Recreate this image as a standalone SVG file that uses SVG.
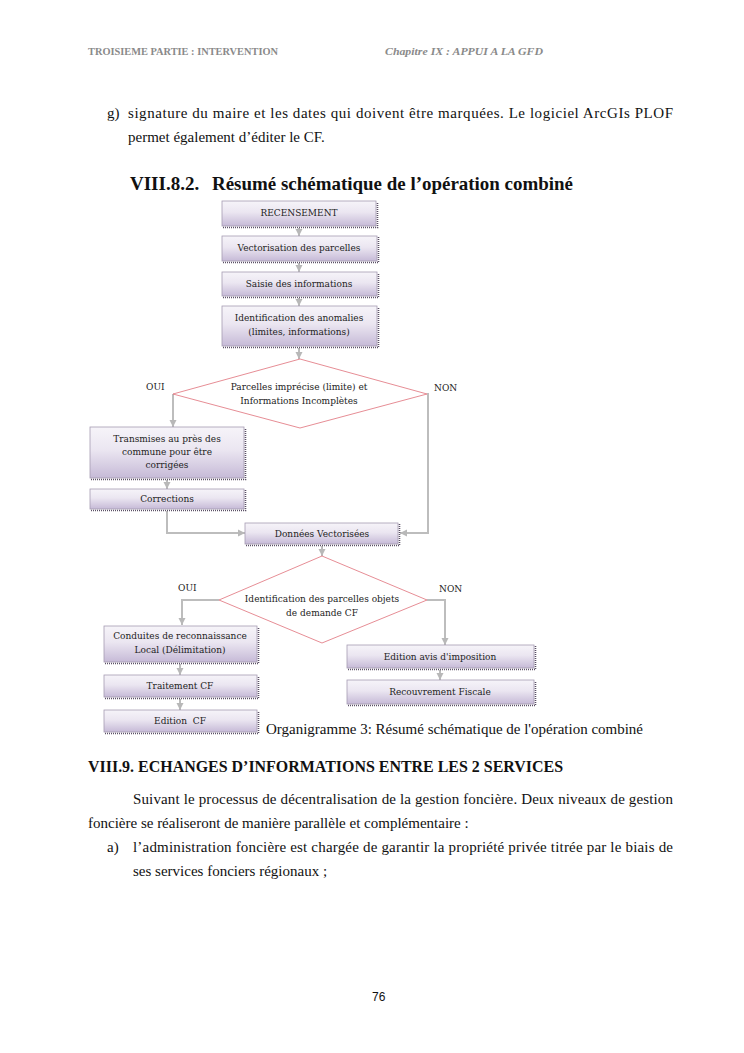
<svg xmlns="http://www.w3.org/2000/svg" width="744" height="1053" viewBox="0 0 744 1053">
<defs>
<linearGradient id="g" x1="0" y1="0" x2="0" y2="1">
<stop offset="0" stop-color="#f6f4f9"/>
<stop offset="0.45" stop-color="#ebe6f1"/>
<stop offset="1" stop-color="#c6bad7"/>
</linearGradient>
<marker id="a" markerWidth="8" markerHeight="8" refX="7" refY="4" orient="auto" markerUnits="userSpaceOnUse">
<path d="M0,0.5 L7,4 L0,7.5 z" fill="#b8b8b8"/>
</marker>
</defs>
<style>
.pg{font-family:"Liberation Serif",serif;font-size:15px;fill:#111}
.hd{font-family:"Liberation Serif",serif;font-size:10px;font-weight:bold;fill:#8a8a8a}
.h2{font-family:"Liberation Serif",serif;font-weight:bold;fill:#111}
.box{fill:url(#g);stroke:#a59cb2;stroke-width:0.8}
.sh{fill:none;stroke:#5b5066;stroke-width:1.6;stroke-dasharray:1 1}
.bt{font-family:"DejaVu Serif",serif;font-size:9px;fill:#222;text-anchor:middle}
.lb{font-family:"DejaVu Serif",serif;font-size:9px;fill:#222}
.dia{fill:#fff;stroke:#e0707a;stroke-width:0.8}
.cn{fill:none;stroke:#bdbdbd;stroke-width:2;marker-end:url(#a)}
</style>
<rect width="744" height="1053" fill="#fff"/>
<text class="hd" x="88" y="55" textLength="190" lengthAdjust="spacingAndGlyphs">TROISIEME PARTIE : INTERVENTION</text>
<text class="hd" x="385" y="55" font-style="italic" textLength="158" lengthAdjust="spacingAndGlyphs">Chapitre IX : APPUI A LA GFD</text>
<text class="pg" x="107" y="118">g)</text>
<text class="pg" x="128" y="118" textLength="545" lengthAdjust="spacing">signature du maire et les dates qui doivent être marquées. Le logiciel ArcGIs PLOF</text>
<text class="pg" x="128" y="142">permet également d’éditer le CF.</text>
<text class="h2" x="130" y="190" font-size="19">VIII.8.2.</text>
<text class="h2" x="212" y="190" font-size="19" textLength="361" lengthAdjust="spacingAndGlyphs">Résumé schématique de l’opération combiné</text>
<g id="connectors">
<path class="cn" d="M299,228 V236"/>
<path class="cn" d="M299,263 V272"/>
<path class="cn" d="M299,298 V306"/>
<path class="cn" d="M299,348 V359"/>
<path class="cn" d="M173,394 V427"/>
<path class="cn" d="M167,480 V489"/>
<path class="cn" d="M167,511 V533 H245"/>
<path class="cn" d="M427,394 H428 V533 H400"/>
<path class="cn" d="M322,546 V556"/>
<path class="cn" d="M219,600 H182 V625"/>
<path class="cn" d="M180,664 V675"/>
<path class="cn" d="M180,699 V710"/>
<path class="cn" d="M427,600 H445 V645"/>
<path class="cn" d="M440,670 V680"/>
</g>
<g id="n1"><rect class="box" x="222" y="201" width="154" height="25"/><path class="sh" d="M223,227.5 H377.5 V202"/><text class="bt" x="299" y="216">RECENSEMENT</text></g>
<g id="n2"><rect class="box" x="222" y="236" width="155" height="25"/><path class="sh" d="M223,262.5 H378.5 V237"/><text class="bt" x="299" y="251">Vectorisation des parcelles</text></g>
<g id="n3"><rect class="box" x="222" y="272" width="155" height="24"/><path class="sh" d="M223,297.5 H378.5 V273"/><text class="bt" x="299" y="287">Saisie des informations</text></g>
<g id="n4"><rect class="box" x="222" y="306" width="155" height="40"/><path class="sh" d="M223,347.5 H378.5 V307"/><text class="bt" x="299" y="321">Identification des anomalies</text><text class="bt" x="299" y="335">(limites, informations)</text></g>
<g id="d1"><polygon class="dia" points="300,359 427,394 300,428 173,394"/><text class="bt" x="299" y="390">Parcelles imprécise (limite) et</text><text class="bt" x="299" y="404">Informations Incomplètes</text></g>
<text class="lb" x="146" y="390">OUI</text>
<text class="lb" x="434" y="391">NON</text>
<g id="n5"><rect class="box" x="90" y="427" width="154" height="51"/><path class="sh" d="M91,479.5 H245.5 V428"/><text class="bt" x="167" y="442">Transmises au près des</text><text class="bt" x="167" y="455">commune pour être</text><text class="bt" x="167" y="468">corrigées</text></g>
<g id="n6"><rect class="box" x="90" y="489" width="154" height="20"/><path class="sh" d="M91,510.5 H245.5 V490"/><text class="bt" x="167" y="502">Corrections</text></g>
<g id="n7"><rect class="box" x="245" y="523" width="153" height="21"/><path class="sh" d="M246,545.5 H399.5 V524"/><text class="bt" x="322" y="537">Données Vectorisées</text></g>
<g id="d2"><polygon class="dia" points="322,556 427,600 322,643 219,600"/><text class="bt" x="322" y="602">Identification des parcelles objets</text><text class="bt" x="322" y="616">de demande CF</text></g>
<text class="lb" x="178" y="591">OUI</text>
<text class="lb" x="439" y="592">NON</text>
<g id="n8"><rect class="box" x="104" y="626" width="153" height="36"/><path class="sh" d="M105,663.5 H258.5 V627"/><text class="bt" x="180" y="639">Conduites de reconnaissance</text><text class="bt" x="180" y="653">Local (Délimitation)</text></g>
<g id="n9"><rect class="box" x="104" y="675" width="153" height="22"/><path class="sh" d="M105,698.5 H258.5 V676"/><text class="bt" x="180" y="689">Traitement CF</text></g>
<g id="n10"><rect class="box" x="104" y="710" width="153" height="22"/><path class="sh" d="M105,733.5 H258.5 V711"/><text class="bt" x="180" y="724" xml:space="preserve">Edition  CF</text></g>
<g id="n11"><rect class="box" x="347" y="645" width="187" height="23"/><path class="sh" d="M348,669.5 H535.5 V646"/><text class="bt" x="440" y="660">Edition avis d'imposition</text></g>
<g id="n12"><rect class="box" x="347" y="680" width="187" height="24"/><path class="sh" d="M348,705.5 H535.5 V681"/><text class="bt" x="440" y="695">Recouvrement Fiscale</text></g>
<text class="pg" x="266" y="734" textLength="377" lengthAdjust="spacingAndGlyphs">Organigramme 3: Résumé schématique de l'opération combiné</text>
<text class="h2" x="88" y="772" font-size="17" textLength="475" lengthAdjust="spacingAndGlyphs">VIII.9. ECHANGES D’INFORMATIONS ENTRE LES 2 SERVICES</text>
<text class="pg" x="133" y="804" textLength="540" lengthAdjust="spacing">Suivant le processus de décentralisation de la gestion foncière. Deux niveaux de gestion</text>
<text class="pg" x="88" y="828">foncière se réaliseront de manière parallèle et complémentaire :</text>
<text class="pg" x="107" y="852">a)</text>
<text class="pg" x="133" y="852" textLength="540" lengthAdjust="spacing">l’administration foncière est chargée de garantir la propriété privée titrée par le biais de</text>
<text class="pg" x="133" y="876">ses services fonciers régionaux ;</text>
<text x="372" y="1001" font-family="Liberation Sans, sans-serif" font-size="12" fill="#111">76</text>
</svg>
